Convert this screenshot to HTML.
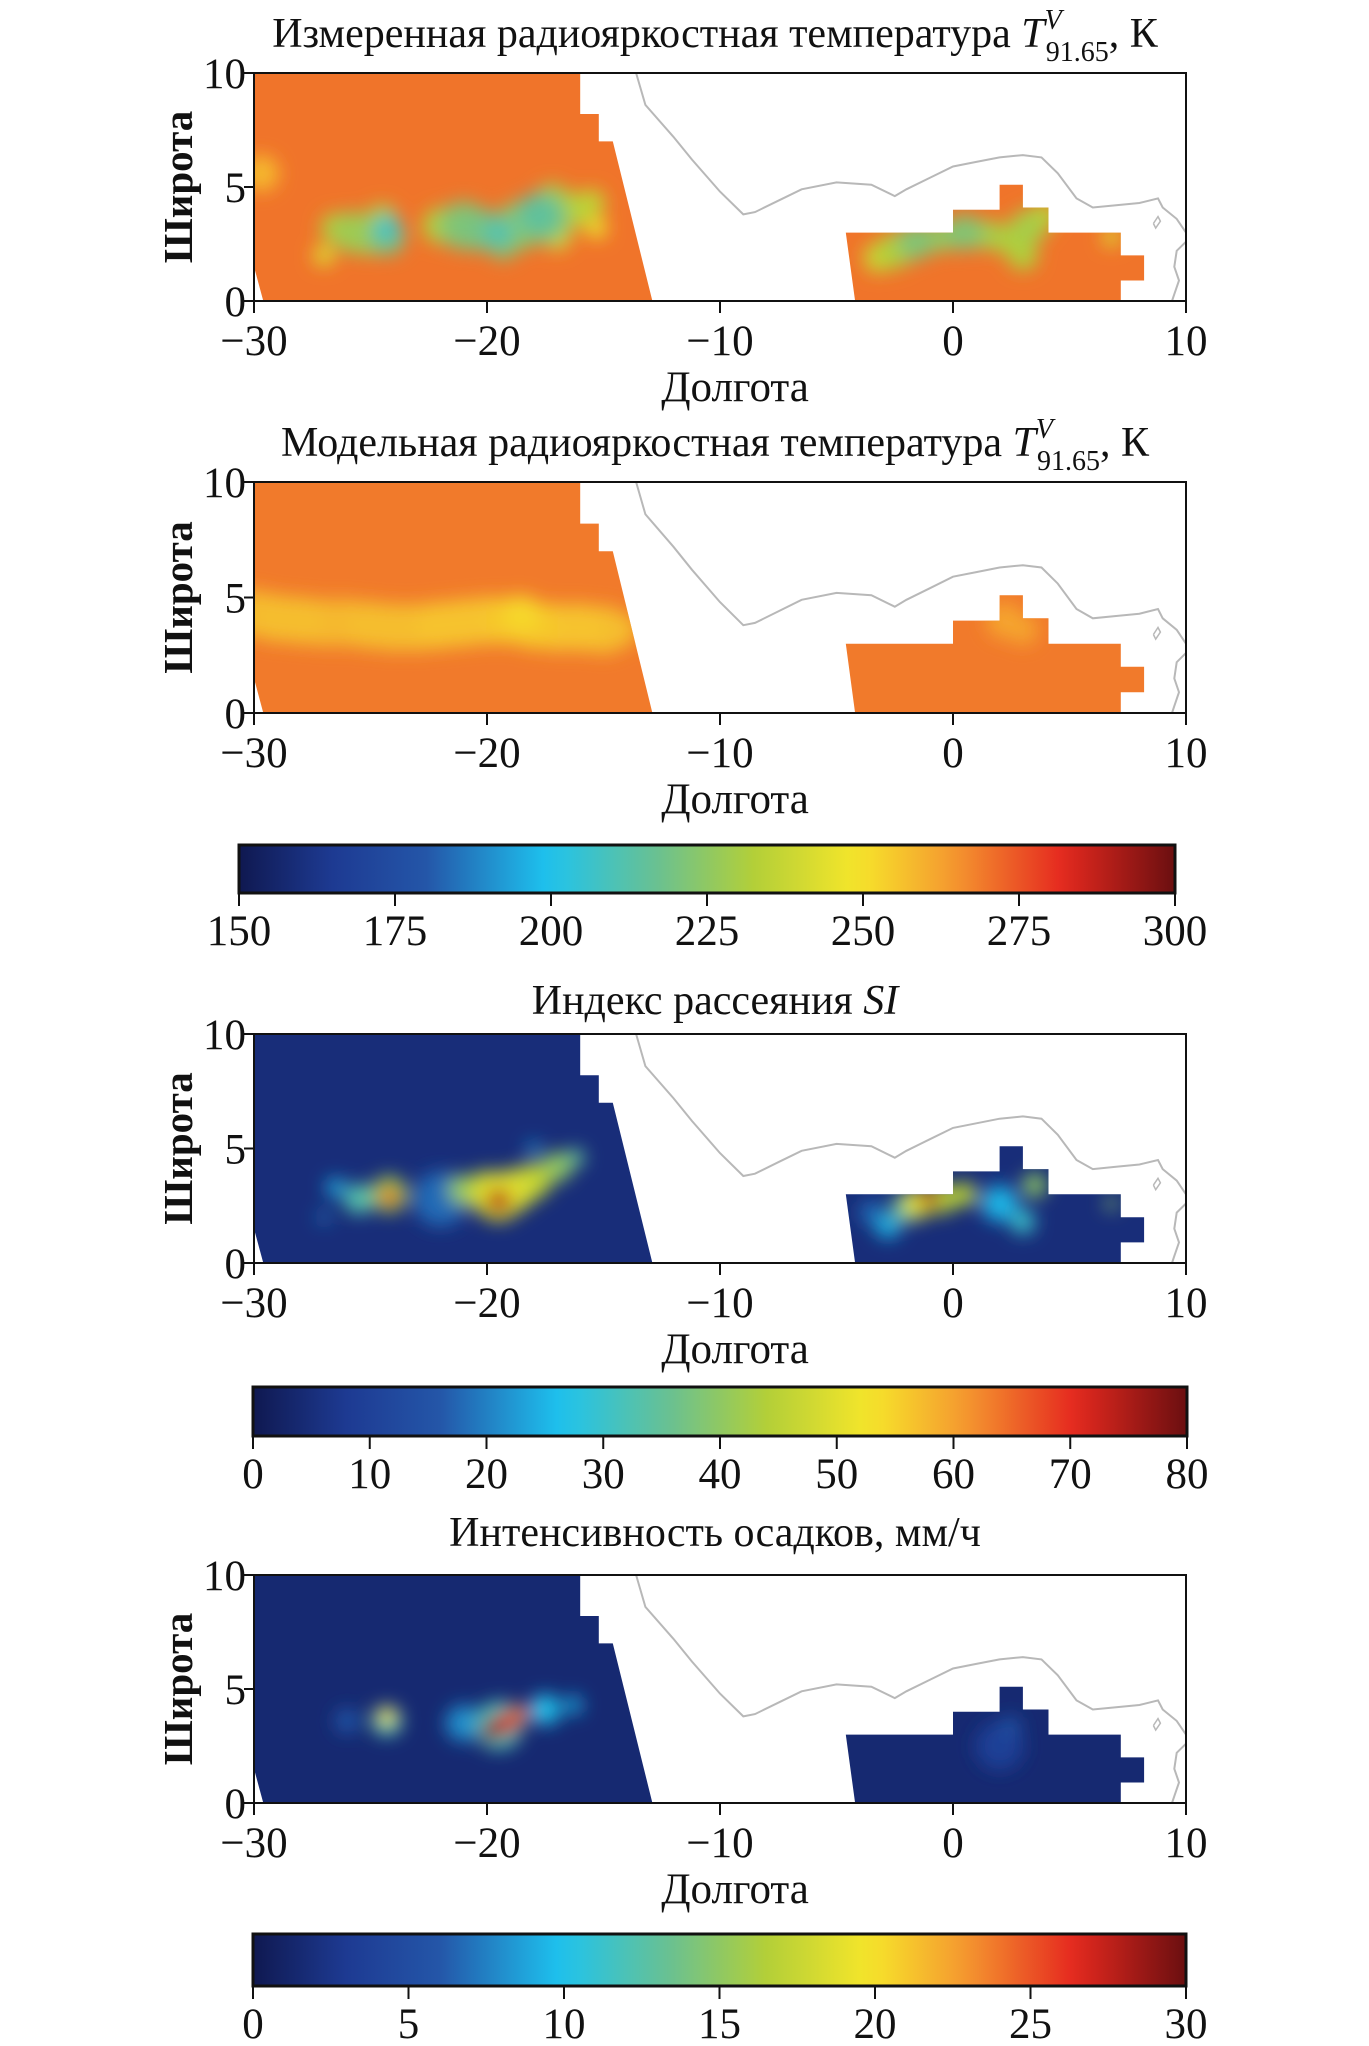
<!DOCTYPE html>
<html><head><meta charset="utf-8">
<style>
html,body{margin:0;padding:0;background:#fff;}
svg{display:block;}
text{font-family:"Liberation Serif","DejaVu Serif",serif;fill:#111;}
</style></head>
<body>
<svg id="fig" width="1369" height="2046" viewBox="0 0 1369 2046" xmlns="http://www.w3.org/2000/svg">
<defs id="defs"></defs>
</svg>
<script>
// ---- data ----
const xTicks = [-30, -20, -10, 0, 10];
const yTicks = [0, 5, 10];
const cmapStops = [0, 0.1, 0.2, 0.33, 0.45, 0.55, 0.66, 0.76, 0.88, 1];
const cmapColors = ['#0f1850','#1d3a92','#2456a8','#1ec3ef','#6cc18e','#b3cf38','#f6e62a','#f59a30','#e5281f','#6a0f10'];
const swathLeft = [[-30,10],[-16,10],[-16,8.2],[-15.2,8.2],[-15.2,7],[-14.6,7],[-12.9,0],[-29.6,0],[-30,1.5]];
const swathRight = [[-4.6,3],[0,3],[0,4],[2,4],[2,5.1],[3,5.1],[3,4.1],[4.1,4.1],[4.1,3],[7.2,3],[7.2,2],[8.2,2],[8.2,0.9],[7.2,0.9],[7.2,0],[-4.2,0]];
const coast = [[-13.6,10],[-13.2,8.6],[-12,7.2],[-11.2,6.2],[-10,4.8],[-9,3.8],[-8.5,3.9],[-7.5,4.4],[-6.5,4.9],[-5,5.2],[-3.5,5.1],[-2.5,4.6],[-2,4.9],[-1,5.4],[0,5.9],[1,6.1],[2,6.3],[3,6.4],[3.8,6.3],[4.5,5.6],[5.3,4.5],[6,4.1],[7,4.2],[8,4.3],[8.8,4.5],[9,4.1],[9.6,3.6],[10,3.0]];
const coast2 = [[10,2.6],[9.6,2.2],[9.5,1.5],[9.7,0.9],[9.5,0.3],[9.4,0]];
const island = [[8.6,3.4],[8.8,3.7],[8.9,3.5],[8.7,3.2],[8.6,3.4]];

// panel 1 measured Tb
const p1Bg = 270;
const p1Lon = [-29.7,-26.5,-25.7,-25,-24.3,-24.3,-24.5,-27,-22,-21,-20.2,-19.5,-19.3,-18.6,-17.8,-17.2,-17.5,-16.3,-15.5,-15.3,-17,-3.2,-2.5,-1.6,-0.5,0.5,1.5,2.3,3,3.2,3.6,4,6.8];
const p1Lat = [5.6,3.2,3.0,2.8,3.2,2.8,3.6,2.0,3.3,3.3,3.1,3.0,2.4,3.3,3.8,4.5,3.6,4.0,4.3,3.2,2.9,1.9,2.2,2.6,2.8,3.0,2.9,2.7,2.0,3.2,3.5,3.8,2.8];
const p1Val = [258,232,228,230,208,220,232,242,232,222,220,212,222,224,215,230,222,234,236,246,240,238,232,222,226,222,230,232,232,230,234,236,242];
const p1Rad = [0.6,0.5,0.7,0.6,0.45,0.6,0.5,0.35,0.6,0.8,0.7,0.5,0.45,0.8,0.7,0.5,0.8,0.6,0.45,0.35,0.5,0.5,0.6,0.6,0.5,0.6,0.5,0.5,0.5,0.6,0.5,0.4,0.3];
// panel 2 model Tb
const p2Bg = 269;
const p2Lon = [-30,-29,-28,-27,-26,-25,-24,-23,-22,-21,-20,-19,-18,-17,-16,-15,-14.3,-18.5,2.2,3];
const p2Lat = [4.3,4.1,4.0,3.9,3.9,3.8,3.7,3.7,3.8,3.9,4.0,4.0,3.8,3.7,3.7,3.6,3.6,4.3,4.0,3.6];
const p2Val = [258,257,257,258,258,257,257,257,256,256,256,255,255,256,256,257,258,252,262,262];
const p2Rad = [0.8,0.8,0.8,0.8,0.8,0.8,0.8,0.8,0.8,0.8,0.8,0.8,0.8,0.8,0.8,0.8,0.6,0.6,0.6,0.5];
// panel 3 scattering index
const p3Bg = 5;
const p3Lon = [-22,-25.5,-24.2,-24.2,-26.5,-27,-21,-20,-19.5,-18.8,-18,-17,-16.2,-18,-19.5,-3.5,-2.8,-2,-1.5,-0.5,0.5,-1,2,3,3.5,6.8];
const p3Lat = [2.8,2.8,3.0,2.9,3.3,2,3.2,3.1,2.9,3.2,3.6,4.2,4.6,5,2.7,2.2,1.6,2.4,2.6,2.8,3,2.8,2.6,1.8,3.4,2.6];
const p3Val = [18,33,42,68,25,20,40,45,50,48,45,40,35,25,74,18,25,35,50,45,45,74,25,30,40,40];
const p3Rad = [0.9,0.5,0.6,0.3,0.3,0.2,0.5,0.7,0.8,0.7,0.6,0.5,0.3,0.2,0.4,0.4,0.4,0.5,0.5,0.5,0.4,0.3,0.6,0.4,0.4,0.2];
// panel 4 rain rate
const p4Bg = 1.5;
const p4Lon = [-19.5,-21,-26,-17.5,-16.3,-24.3,-24.3,-19.2,-18.6,-19.8,2.5,2];
const p4Lat = [3.4,3.5,3.6,4.1,4.3,3.6,3.8,3.5,3.9,3.2,3.4,2.5];
const p4Val = [12,8,6,10,9,12,20,27,24,29,6,3.5];
const p4Rad = [0.8,0.6,0.4,0.5,0.3,0.5,0.3,0.4,0.3,0.35,0.3,0.8];

const cb1Ticks = [150,175,200,225,250,275,300];
const cb2Ticks = [0,10,20,30,40,50,60,70,80];
const cb3Ticks = [0,5,10,15,20,25,30];

// ---- helpers ----
const NS = 'http://www.w3.org/2000/svg';
const svg = document.getElementById('fig');
const defs = document.getElementById('defs');
function mk(tag, attrs, parent){const e=document.createElementNS(NS,tag);for(const k in attrs)e.setAttribute(k,attrs[k]);(parent||svg).appendChild(e);return e;}
function hex(c){return [parseInt(c.substr(1,2),16),parseInt(c.substr(3,2),16),parseInt(c.substr(5,2),16)];}
function cmap(t){t=Math.max(0,Math.min(1,t));for(let i=1;i<cmapStops.length;i++){if(t<=cmapStops[i]){const f=(t-cmapStops[i-1])/(cmapStops[i]-cmapStops[i-1]);const a=hex(cmapColors[i-1]),b=hex(cmapColors[i]);return 'rgb('+a.map((v,j)=>Math.round(v+(b[j]-v)*f)).join(',')+')';}}return cmapColors[cmapColors.length-1];}

const X0=254, X1=1186;
const flt=mk('filter',{id:'blur',x:'-50%',y:'-50%',width:'200%',height:'200%'},defs);
mk('feGaussianBlur',{stdDeviation:'9'},flt);

function panel(idx, top, bottom, title, titleY, bg, lons, lats, vals, rads, vmin, vmax){
  const g=mk('g',{});
  
  
  const sx=v=>X0+(v+30)/40*(X1-X0);
  const sy=v=>bottom-(v/10)*(bottom-top);
  const ppd=(X1-X0)/40;
  const norm=v=>(v-vmin)/(vmax-vmin);
  const pts=a=>a.map(p=>sx(p[0]).toFixed(1)+','+sy(p[1]).toFixed(1)).join(' ');
  const cp=mk('clipPath',{id:'clip'+idx},defs);
  mk('polygon',{points:pts(swathLeft)},cp);
  mk('polygon',{points:pts(swathRight)},cp);
  const data=mk('g',{'clip-path':'url(#clip'+idx+')'},g);
  const bgR=mk('rect',{x:X0,y:top,width:X1-X0,height:bottom-top,fill:cmap(norm(bg))},data);
  
  
  const order=lons.map((_,i)=>i).sort((a,b)=>Math.abs(vals[a]-bg)-Math.abs(vals[b]-bg));
  const bl=mk('g',{filter:'url(#blur)'},data);
  order.forEach(i=>{
    const c=mk('circle',{cx:sx(lons[i]),cy:sy(lats[i]),r:rads[i]*ppd*1.3,fill:cmap(norm(vals[i]))},bl);
    
    
  });
  const cl=mk('polyline',{points:pts(coast),fill:'none',stroke:'#b8b8b8','stroke-width':2},g);
  
  
  mk('polyline',{points:pts(coast2),fill:'none',stroke:'#b8b8b8','stroke-width':2},g);
  mk('polyline',{points:pts(island),fill:'none',stroke:'#b8b8b8','stroke-width':1.5},g);
  const fr=mk('rect',{x:X0,y:top,width:X1-X0,height:bottom-top,fill:'none',stroke:'#111','stroke-width':2},g);
  
  
  xTicks.forEach(t=>{
    mk('line',{x1:sx(t),x2:sx(t),y1:bottom,y2:bottom+12,stroke:'#111','stroke-width':2},g);
    const tx=mk('text',{x:sx(t),y:bottom+54,'font-size':43,'text-anchor':'middle'},g);
    tx.textContent=(t<0?'\u2212'+(-t):t);
    
    
  });
  yTicks.forEach(t=>{
    mk('line',{x1:X0-10,x2:X0,y1:sy(t),y2:sy(t),stroke:'#111','stroke-width':2},g);
    const tx=mk('text',{x:X0-8,y:sy(t)+15,'font-size':43,'text-anchor':'end'},g);
    tx.textContent=t;
    
    
  });
  const xl=mk('text',{x:735,y:bottom+100,'font-size':43,'text-anchor':'middle'},g);
  xl.textContent='Долгота';
  
  
  const yc=(top+bottom)/2;
  const yl=mk('text',{x:192,y:yc,'font-size':41,'font-weight':'bold','text-anchor':'middle',transform:'rotate(-90 192 '+yc+')'},g);
  yl.textContent='Широта';
  
  
  const tt=mk('text',{x:715,y:titleY,'font-size':42,'text-anchor':'middle'},g);
  tt.innerHTML=title;
  
  
}

function colorbar(idx, x0, x1, top, bottom, ticks){
  const g=mk('g',{});
  
  
  const lg=mk('linearGradient',{id:'cbg'+idx,x1:0,x2:1,y1:0,y2:0},defs);
  for(let i=0;i<=40;i++){mk('stop',{offset:i/40,'stop-color':cmap(i/40)},lg);}
  mk('rect',{x:x0,y:top,width:x1-x0,height:bottom-top,fill:'url(#cbg'+idx+')',stroke:'#111','stroke-width':3},g);
  const a=ticks[0],b=ticks[ticks.length-1];
  ticks.forEach(t=>{
    const x=x0+(t-a)/(b-a)*(x1-x0);
    mk('line',{x1:x,x2:x,y1:bottom,y2:bottom+13,stroke:'#111','stroke-width':2},g);
    const tx=mk('text',{x:x,y:bottom+52,'font-size':43,'text-anchor':'middle'},g);
    tx.textContent=t;
    
    
  });
}

const sub='<tspan font-style="italic">T</tspan><tspan font-style="italic" font-size="28" dy="-18">V</tspan><tspan font-size="28" dx="-16" dy="32">91.65</tspan><tspan dy="-14">, К</tspan>';
panel(1,73,301,'Измеренная радиояркостная температура '+sub,47,p1Bg,p1Lon,p1Lat,p1Val,p1Rad,150,300);
panel(2,482,713,'Модельная радиояркостная температура '+sub,456,p2Bg,p2Lon,p2Lat,p2Val,p2Rad,150,300);
colorbar(1,239,1175,845,893,cb1Ticks);
panel(3,1034,1263,'Индекс рассеяния <tspan font-style="italic">SI</tspan>',1014,p3Bg,p3Lon,p3Lat,p3Val,p3Rad,0,80);
colorbar(2,253,1187,1387,1436,cb2Ticks);
panel(4,1575,1803,'Интенсивность осадков, мм/ч',1546,p4Bg,p4Lon,p4Lat,p4Val,p4Rad,0,30);
colorbar(3,253,1186,1934,1986,cb3Ticks);
</script>
</body></html>
